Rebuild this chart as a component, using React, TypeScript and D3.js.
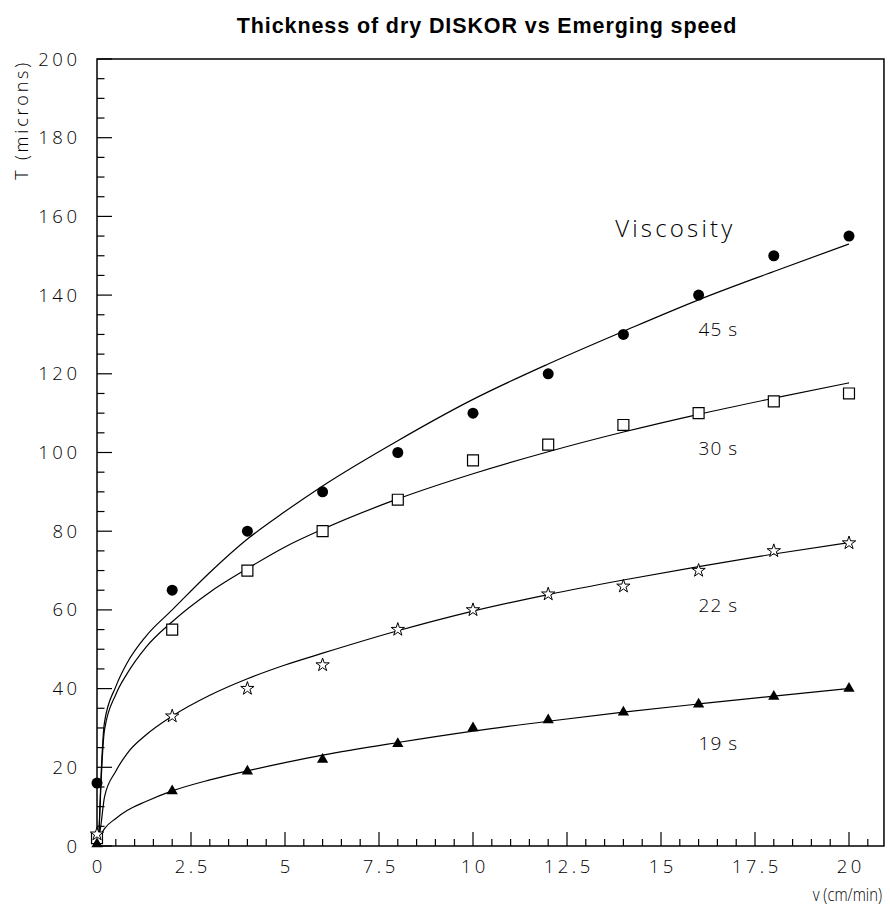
import * as d3 from "d3";

const W = 890;
const H = 911;

// measured points (v in cm/min, T in microns)
const speeds = [0, 2, 4, 6, 8, 10, 12, 14, 16, 18, 20];
const thick45 = [16, 65, 80, 90, 100, 110, 120, 130, 140, 150, 155];
const thick30 = [2, 55, 70, 80, 88, 98, 102, 107, 110, 113, 115];
const thick22 = [3, 33, 40, 46, 55, 60, 64, 66, 70, 75, 77];
const thick19 = [0.5, 14, 19, 22, 26, 30, 32, 34, 36, 38, 40];

// fitted curves
const fitV = [0.05, 0.1, 0.2, 0.5, 0.8, 1.3, 2, 3, 4, 5, 6, 8, 10, 12, 14, 16, 18, 20];
const fit45 = [2.4, 16, 31.5, 40.5, 46.5, 53.3, 60, 69.5, 78, 85, 91.5, 103, 113.5, 122.5, 130.8, 138.8, 146, 153];
const fit30 = [2.4, 14.5, 29.5, 38.5, 43.8, 50.5, 57, 64.5, 70.5, 76, 80.5, 88.2, 94.6, 100.2, 105.2, 109.7, 113.8, 117.7];
const fit22 = [2, 5, 12.5, 19, 23.5, 28.2, 33, 38.3, 42.5, 46, 49, 54.7, 59.7, 63.9, 67.6, 71, 74.2, 77.1];
const fit19 = [1.5, 2.8, 4.4, 7, 9, 11.3, 14, 16.8, 19.1, 21.2, 23.1, 26.3, 29.2, 31.7, 34, 36.1, 38.1, 40];

const xTicks = [0, 2.5, 5, 7.5, 10, 12.5, 15, 17.5, 20];
const yTicks = [0, 20, 40, 60, 80, 100, 120, 140, 160, 180, 200];
const viscLabels = ["45 s", "30 s", "22 s", "19 s"];

const FONT = "'Open Sans', 'DejaVu Sans', sans-serif";

export default function App() {
  const x = d3.scaleLinear().domain([0, 20]).range([97, 849]);
  const y = d3.scaleLinear().domain([0, 200]).range([846, 59]);
  const xMax = 20.93;

  const line = d3
    .line<number>()
    .x((_, i) => x(fitV[i]))
    .y((d) => y(d))
    .curve(d3.curveMonotoneX);

  const minorX = d3.range(0, xMax, 0.5);
  const minorY = d3.range(0, 201, 5);

  const star = d3.symbol().type(d3.symbolStar).size(55)();
  const square = d3.symbol().type(d3.symbolSquare).size(120)();
  const tri = d3.symbol().type(d3.symbolTriangle).size(55)();

  // label anchors in data coords
  const labelPos: [number, number][] = [
    [16, 129.6],
    [16, 99.4],
    [16, 59.5],
    [16, 24.4],
  ];

  return (
    <svg width={W} height={H} style={{ position: "absolute", left: 0, top: 0, background: "#fff" }}>
      <text
        x={487}
        y={33}
        textAnchor="middle"
        fontFamily="'Liberation Sans', Arial, sans-serif"
        fontWeight="bold"
        fontSize={21.5}
        letterSpacing={0.9}
      >
        Thickness of dry DISKOR vs Emerging speed
      </text>

      {/* frame */}
      <rect x={x(0)} y={y(200)} width={x(xMax) - x(0)} height={y(0) - y(200)} fill="none" stroke="#000" strokeWidth={1.5} />

      {/* ticks */}
      {minorY.map((v) => (
        <line key={"ym" + v} x1={x(0)} x2={x(0) + (v % 20 === 0 ? 15 : 7.5)} y1={y(v)} y2={y(v)} stroke="#000" strokeWidth={1.2} />
      ))}
      {minorX.map((v) => (
        <line key={"xm" + v} x1={x(v)} x2={x(v)} y1={y(0)} y2={y(0) - (v % 2.5 === 0 ? 14 : 7)} stroke="#000" strokeWidth={1.2} />
      ))}

      {yTicks.map((v) => (
        <text key={"yl" + v} x={80.5} y={y(v) + 6.5} textAnchor="end" fontFamily={FONT} fontWeight={300} fontSize={18.5} letterSpacing={3.5} fill="#000">
          {v}
        </text>
      ))}
      {xTicks.map((v) => (
        <text key={"xl" + v} x={x(v) + 1.8} y={872.5} textAnchor="middle" fontFamily={FONT} fontWeight={300} fontSize={18.5} letterSpacing={3.5} fill="#000">
          {v}
        </text>
      ))}

      <text transform="translate(882, 901) scale(0.85, 1)" textAnchor="end" fontFamily={FONT} fontWeight={300} fontSize={17.5} fill="#000">
        v (cm/min)
      </text>
      <text
        transform={`translate(28, 60) rotate(-90)`}
        textAnchor="end"
        fontFamily={FONT}
        fontWeight={300}
        fontSize={18}
        letterSpacing={2.8}
        fill="#000"
      >
        T (microns)
      </text>

      {/* fits */}
      {[fit45, fit30, fit22, fit19].map((f, i) => (
        <path key={"f" + i} d={line(f) || ""} fill="none" stroke="#000" strokeWidth={1.2} />
      ))}

      {/* markers */}
      {thick45.map((t, i) => (
        <circle key={"c" + i} cx={x(speeds[i])} cy={y(t)} r={5.5} fill="#000" />
      ))}
      {thick30.map((t, i) => (
        <path key={"s" + i} d={square || ""} transform={`translate(${x(speeds[i])},${y(t)})`} fill="#fff" stroke="#000" strokeWidth={1.2} />
      ))}
      {thick22.map((t, i) => (
        <path key={"st" + i} d={star || ""} transform={`translate(${x(speeds[i])},${y(t)})`} fill="#fff" stroke="#000" strokeWidth={1} />
      ))}
      {thick19.map((t, i) => (
        <path key={"t" + i} d={tri || ""} transform={`translate(${x(speeds[i])},${y(t)})`} fill="#000" />
      ))}

      <text x={x(13.78)} y={y(154.8)} fontFamily={FONT} fontWeight={300} fontSize={24} letterSpacing={3.2} fill="#000">
        Viscosity
      </text>
      {viscLabels.map((l, i) => (
        <text key={l} x={x(labelPos[i][0])} y={y(labelPos[i][1])} fontFamily={FONT} fontWeight={300} fontSize={19} letterSpacing={1} fill="#000">
          {l}
        </text>
      ))}
    </svg>
  );
}
